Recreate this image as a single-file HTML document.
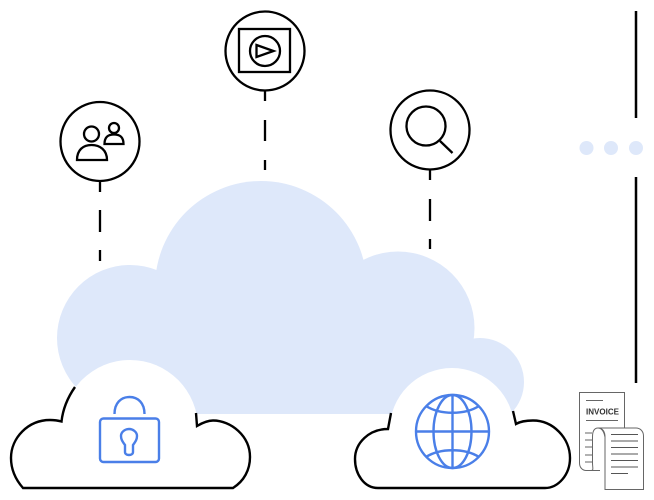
<!DOCTYPE html>
<html>
<head>
<meta charset="utf-8">
<style>
html,body{margin:0;padding:0;background:#fff;width:654px;height:500px;overflow:hidden}
svg{display:block}
</style>
</head>
<body>
<svg width="654" height="500" viewBox="0 0 654 500" xmlns="http://www.w3.org/2000/svg">
  <!-- blue cloud -->
  <g fill="#dee8fa">
    <circle cx="261" cy="287" r="106"/>
    <circle cx="130" cy="338" r="73"/>
    <circle cx="398" cy="328" r="76.500"/>
    <circle cx="480" cy="382" r="44"/>
    <rect x="130" y="345" width="350" height="69"/>
  </g>
  <!-- white cloud backs -->
  <g fill="#fff">
    <circle cx="130" cy="428" r="68"/>
    <circle cx="452" cy="430.500" r="62.500"/>
    <rect x="60" y="425" width="140" height="63"/>
    <rect x="388" y="425" width="128" height="63"/>
  </g>
  <!-- black cloud outlines -->
  <g fill="none" stroke="#000" stroke-width="2.400">
    <path d="M75 387 C68 397 63 408 61.500 421.500 C58 420.500 54 420 50 420 C28 420 11 438 11 458 C11 470 16 480 23 488 L233 488 C244 481 250 470 250 457 C250 436 231 420.500 213 420.500 C207 420.500 202 423 197 426 L196 413"/>
    <path d="M391 413 L388 429 C369 429 355 443 355 459 C355 474 364 488 378 488 L545 488 C558 488 570 475 570 458 C570 438 553 420.500 533 420.500 C527 420.500 521 421 516 424 L513 411"/>
  </g>
  <!-- lock -->
  <g fill="none" stroke="#4a7fe8" stroke-width="2.400">
    <rect x="100" y="418.500" width="59" height="43.500" rx="3.500"/>
    <path d="M114.500 414 C114.500 403 121 397 129.500 397 C138 397 144.500 403 144.500 414"/>
    <path d="M125 445 C122 441 121 439 121 436 C121 432 125 429 129 429 C133 429 137 432 137 436 C137 439 136 441 133 445 L133 452 C133 456 125 456 125 452 Z"/>
  </g>
  <!-- globe -->
  <g fill="none" stroke="#4a7fe8" stroke-width="2.400">
    <circle cx="452.500" cy="431.500" r="36.500"/>
    <ellipse cx="452.500" cy="431.500" rx="19" ry="36.500"/>
    <path d="M452.500 395 V468 M416 431.500 H489"/>
    <path d="M426 406 C440 415 465 415 479 406"/>
    <path d="M426 457 C440 448 465 448 479 457"/>
  </g>
  <!-- circles -->
  <g fill="none" stroke="#000" stroke-width="2.300">
    <circle cx="100" cy="141.500" r="39.500"/>
    <circle cx="265" cy="51" r="39.500"/>
    <circle cx="430" cy="130" r="39.500"/>
    <!-- users -->
    <circle cx="91.500" cy="134" r="7.500"/>
    <path d="M77 160 C77 150 83 145 91.500 145 C100 145 107 150 107 160 Z"/>
    <circle cx="114" cy="128" r="5"/>
    <path d="M104.500 144 C104.500 137 108 134.500 114 134.500 C120 134.500 123.500 137 123.500 144 Z"/>
    <!-- video -->
    <rect x="239" y="29" width="51" height="43"/>
    <circle cx="265" cy="51" r="15"/>
    <path d="M256.500 45 L273.500 51 L256.500 57 Z"/>
    <!-- search -->
    <circle cx="426" cy="126" r="19.500"/>
    <path d="M440 141 L452.500 153"/>
  </g>
  <!-- dashes -->
  <g fill="none" stroke="#000" stroke-width="2.300">
    <path d="M100 181 V192 M100 210 V232 M100 250 V261"/>
    <path d="M265 91 V101 M265 120 V141 M265 160 V170"/>
    <path d="M430 170 V180 M430 199 V221 M430 239 V249"/>
  </g>
  <!-- right line -->
  <path d="M636 11 V118 M636 177 V383" fill="none" stroke="#000" stroke-width="2.500"/>
  <g fill="#dee8fa">
    <circle cx="586.500" cy="148" r="7"/>
    <circle cx="611" cy="148" r="7"/>
    <circle cx="636" cy="148" r="7"/>
  </g>
  <!-- invoice -->
  <g fill="none" stroke="#666" stroke-width="1">
    <path d="M624.500 428 V392.500 H579.500 V463 C579.500 468 583 470.500 586 470.500 H600"/>
    <path d="M586 400.500 H603 M586 420.500 H618"/>
    <path d="M585 433 H592 M585 440 H592 M585 447 H592 M585 455 H592 M585 462 H592"/>
    <path fill="#fff" d="M598 428 C602 428 604 432 605 437 V489.500 H643.500 V436 C643.500 431 640 428 636 428 Z"/>
    <path fill="#fff" d="M598 428 C594 428 592.500 432 592.500 437 V463 C592.500 468 594 470.500 591 470.500"/>
    <path d="M598 428 C603 428 605 432 605 437"/>
    <path d="M611 434.500 H638 M611 441 H638 M611 447.500 H638 M611 454 H638 M611 460.500 H638 M611 467 H638 M611 473.500 H628" stroke="#555"/>
  </g>
  <text x="586" y="414.500" font-family="'Liberation Sans',sans-serif" font-size="8.500" font-weight="bold" fill="#333" textLength="33" lengthAdjust="spacingAndGlyphs">INVOICE</text>
</svg>
</body>
</html>
